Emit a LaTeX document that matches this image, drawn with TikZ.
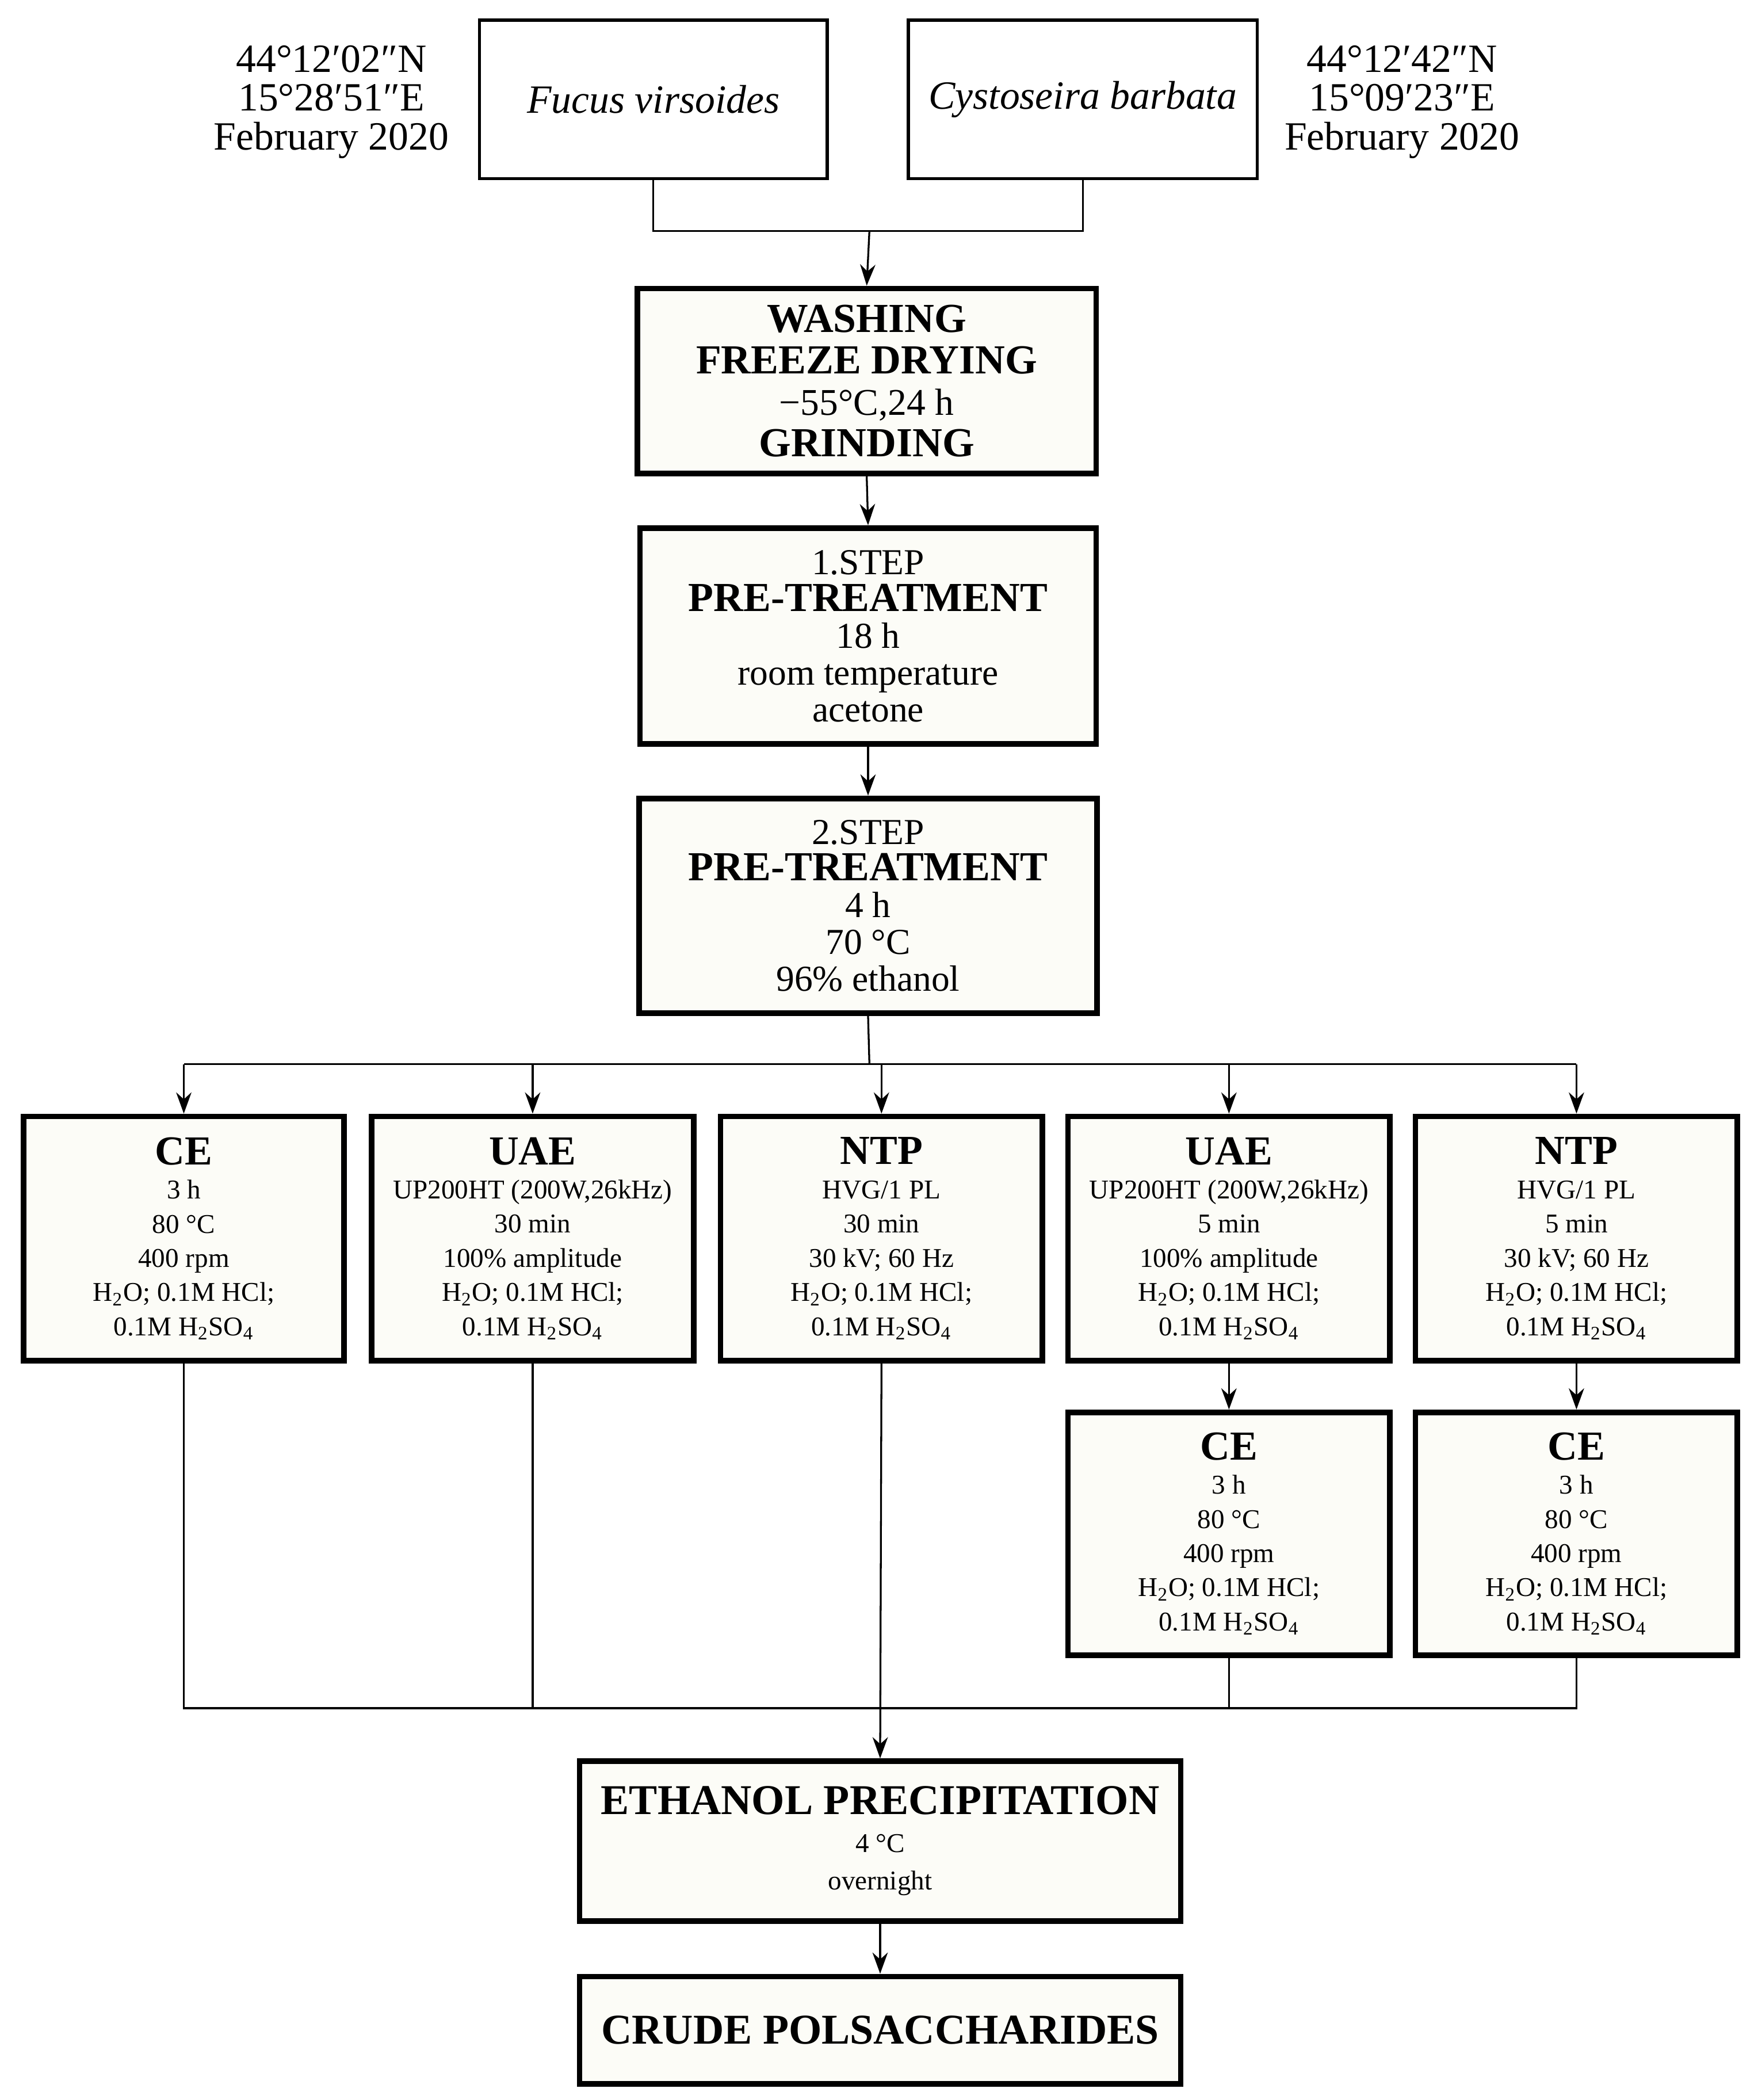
\documentclass[tikz,border=0pt]{standalone}
\usepackage{fontspec}
\setmainfont{Liberation Serif}
\usetikzlibrary{arrows.meta}
\definecolor{boxfill}{HTML}{FCFCF7}
\begin{document}
\begin{tikzpicture}[x=0.02cm,y=-0.02cm,
  thin box/.style={draw,line width=1.3pt,fill=white,inner sep=0pt,align=center},
  thick box/.style={draw,line width=2.4pt,fill=boxfill,inner sep=0pt,align=center},
  small/.style={font=\fontsize{11.5}{14.5}\selectfont},
  conn/.style={line width=0.8pt},
  arr/.style={conn,-{Stealth[length=9pt,width=6.5pt]}}]
\useasboundingbox (0,0) rectangle (1310,1565);
\newcommand{\hd}[1]{{\fontsize{17.5}{17}\selectfont\bfseries #1}}
\newcommand{\sub}[1]{\textsubscript{#1}}
% top
\node[thin box,minimum width=259*0.02cm,minimum height=118*0.02cm] (fuc) at (487,74) {\fontsize{17}{18}\selectfont\itshape Fucus virsoides};
\node[thin box,minimum width=260*0.02cm,minimum height=118*0.02cm] (cys) at (807,74) {\fontsize{17}{18}\selectfont\itshape Cystoseira barbata};
\node[align=center,font=\fontsize{17}{16.5}\selectfont] (locl) at (247,76) {44°12′02″N\\15°28′51″E\\February 2020};
\node[align=center,font=\fontsize{17}{16.5}\selectfont] (locr) at (1045,76) {44°12′42″N\\15°09′23″E\\February 2020};
\node[thick box,minimum width=342*0.02cm,minimum height=138*0.02cm,font=\fontsize{16}{17.6}\selectfont] (wash) at (646,284) {\hd{WASHING}\\\hd{FREEZE DRYING}\\−55°C,24 h\\\hd{GRINDING}};
\node[thick box,minimum width=340*0.02cm,minimum height=161*0.02cm,font=\fontsize{15.5}{15.6}\selectfont] (st1) at (647,474) {1.STEP\\\hd{PRE-TREATMENT}\\18 h\\room temperature\\acetone};
\node[thick box,minimum width=341*0.02cm,minimum height=160*0.02cm,font=\fontsize{15.5}{15.6}\selectfont] (st2) at (647,675) {2.STEP\\\hd{PRE-TREATMENT}\\4 h\\70 °C\\96\% ethanol};
% row
\node[thick box,small,minimum width=239*0.02cm,minimum height=182*0.02cm] (ce1) at (137,923) {\hd{CE}\\3 h\\80 °C\\400 rpm\\H\sub{2}O; 0.1M HCl;\\0.1M H\sub{2}SO\sub{4}};
\node[thick box,small,minimum width=240*0.02cm,minimum height=182*0.02cm] (uae1) at (397,923) {\hd{UAE}\\UP200HT (200W,26kHz)\\30 min\\100\% amplitude\\H\sub{2}O; 0.1M HCl;\\0.1M H\sub{2}SO\sub{4}};
\node[thick box,small,minimum width=240*0.02cm,minimum height=182*0.02cm] (ntp1) at (657,923) {\hd{NTP}\\HVG/1 PL\\30 min\\30 kV; 60 Hz\\H\sub{2}O; 0.1M HCl;\\0.1M H\sub{2}SO\sub{4}};
\node[thick box,small,minimum width=240*0.02cm,minimum height=182*0.02cm] (uae2) at (916,923) {\hd{UAE}\\UP200HT (200W,26kHz)\\5 min\\100\% amplitude\\H\sub{2}O; 0.1M HCl;\\0.1M H\sub{2}SO\sub{4}};
\node[thick box,small,minimum width=240*0.02cm,minimum height=182*0.02cm] (ntp2) at (1175,923) {\hd{NTP}\\HVG/1 PL\\5 min\\30 kV; 60 Hz\\H\sub{2}O; 0.1M HCl;\\0.1M H\sub{2}SO\sub{4}};
\node[thick box,small,minimum width=240*0.02cm,minimum height=181*0.02cm] (ce2) at (916,1143) {\hd{CE}\\3 h\\80 °C\\400 rpm\\H\sub{2}O; 0.1M HCl;\\0.1M H\sub{2}SO\sub{4}};
\node[thick box,small,minimum width=240*0.02cm,minimum height=181*0.02cm] (ce3) at (1175,1143) {\hd{CE}\\3 h\\80 °C\\400 rpm\\H\sub{2}O; 0.1M HCl;\\0.1M H\sub{2}SO\sub{4}};
\node[thick box,minimum width=448*0.02cm,minimum height=119*0.02cm,font=\fontsize{11.5}{16}\selectfont] (eth) at (656,1372) {{\fontsize{18}{18}\selectfont\bfseries ETHANOL PRECIPITATION}\\4 °C\\overnight};
\node[thick box,minimum width=448*0.02cm,minimum height=80*0.02cm] (cru) at (656,1513) {{\fontsize{18}{18}\selectfont\bfseries CRUDE POLSACCHARIDES}};
% connectors
\coordinate (j) at (648,172);
\coordinate (r) at (648,793);
\coordinate (b) at (656,1273);
\draw[conn] (fuc.south) |- (j) -| (cys.south);
\draw[arr] (j) -- (wash.north);
\draw[arr] (wash.south) -- (st1.north);
\draw[arr] (st1.south) -- (st2.north);
\draw[conn] (st2.south) -- (r);
\draw[conn] (r -| ce1.north) -- (r -| ntp2.north);
\foreach \n in {ce1,uae1,ntp1,uae2,ntp2} \draw[arr] (r -| \n.north) -- (\n.north);
\draw[arr] (uae2.south) -- (ce2.north);
\draw[arr] (ntp2.south) -- (ce3.north);
\draw[conn] (ce1.south) -- (ce1.south |- b) -- (ce3.south |- b) -- (ce3.south);
\draw[conn] (uae1.south) -- (uae1.south |- b);
\draw[conn] (ce2.south) -- (ce2.south |- b);
\draw[arr] (ntp1.south) -- (eth.north);
\draw[arr] (eth.south) -- (cru.north);
\end{tikzpicture}
\end{document}
